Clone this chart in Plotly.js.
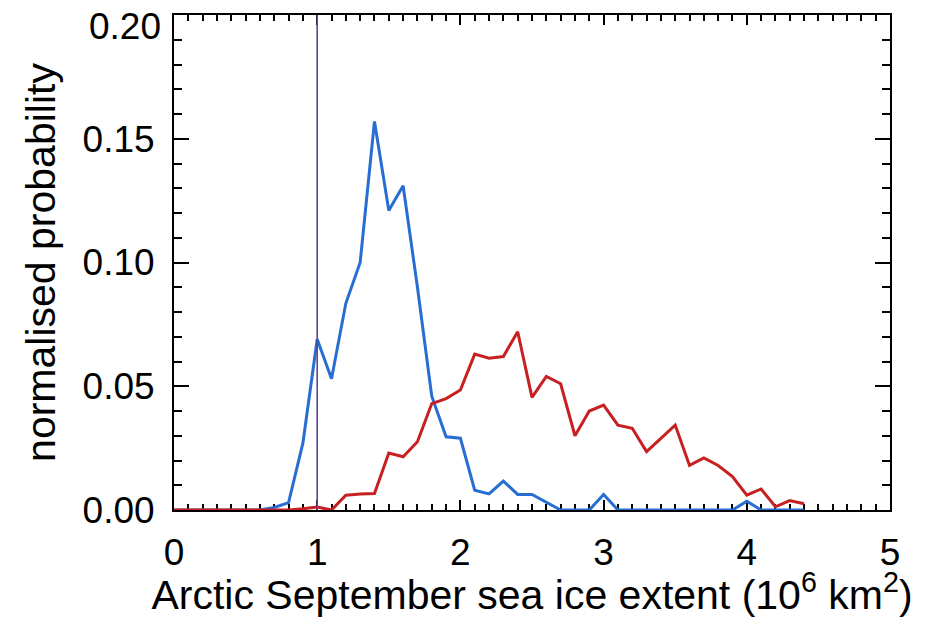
<!DOCTYPE html>
<html>
<head>
<meta charset="utf-8">
<script src="https://cdn.plot.ly/plotly-3.0.1.min.js"></script>
<style>html,body{margin:0;padding:0;background:#fff;}#chart{width:933px;height:618px;}</style>
</head>
<body>
<div id="chart"></div>
<script>
// Sea-ice extent bins (10^6 km^2)
const extent = [0.0,0.1,0.2,0.3,0.4,0.5,0.6,0.7,0.8,0.9,
                1.0,1.1,1.2,1.3,1.4,1.5,1.6,1.7,1.8,1.9,
                2.0,2.1,2.2,2.3,2.4,2.5,2.6,2.7,2.8,2.9,
                3.0,3.1,3.2,3.3,3.4,3.5,3.6,3.7,3.8,3.9,
                4.0,4.1,4.2,4.3,4.4];
// Blue distribution
const blueProb = [0,0,0,0,0,0,0,0.001,0.003,0.027,
                  0.069,0.053,0.0835,0.100,0.157,0.121,0.131,0.090,0.046,0.0296,
                  0.029,0.008,0.0065,0.0117,0.0063,0.0063,0.003,0,0,0,
                  0.0063,0,0,0,0,0,0,0,0,0,
                  0.0035,0,0,0,0];
// Red distribution
const redProb = [0,0,0,0,0,0,0,0,0,0.0005,
                 0.0012,0,0.006,0.0065,0.0067,0.023,0.0215,0.0276,0.043,0.045,
                 0.0485,0.063,0.0613,0.062,0.072,0.0455,0.054,0.051,0.030,0.040,
                 0.0424,0.0343,0.033,0.0236,0.029,0.0343,0.018,0.021,0.018,0.0135,
                 0.006,0.0085,0.0013,0.0038,0.0025];
// Reference marker
const markerX = 1.0;
const xTickVals = [0,1,2,3,4,5];
const xTickText = ['0','1','2','3','4','5'];
const yTickVals = [0,0.05,0.10,0.15,0.20];
const yTickText = ['0.00','0.05','0.10','0.15','0.20'];

const font = 'Liberation Sans, Arial, Helvetica, sans-serif';

const traces = [
  {x: extent, y: blueProb, type: 'scatter', mode: 'lines',
   line: {color: 'rgb(40,110,210)', width: 3}, hoverinfo: 'x+y'},
  {x: extent, y: redProb, type: 'scatter', mode: 'lines',
   line: {color: 'rgb(200,32,32)', width: 3}, hoverinfo: 'x+y'}
];

// the top label (0.20) sits a little below its tick in the reference; draw it as an annotation
const lastIdx = yTickVals.length - 1;
const yTickTextAxis = yTickText.map((t, i) => i === lastIdx ? '' : t);

const axisCommon = {
  showline: true, linecolor: '#000', linewidth: 2,
  mirror: 'allticks', ticks: 'inside', tickcolor: '#000', tickwidth: 2,
  showgrid: false, zeroline: false, layer: 'below traces',
  ticklabeloverflow: 'allow',
  tickfont: {family: font, size: 37, color: '#000'}
};

const layout = {
  width: 933, height: 618,
  margin: {l: 174, r: 43, t: 15, b: 108},
  paper_bgcolor: '#fff', plot_bgcolor: '#fff',
  showlegend: false,
  xaxis: Object.assign({}, axisCommon, {
    range: [0, 5], tickmode: 'array', tickvals: xTickVals, ticktext: xTickText,
    ticklen: 10, ticklabelstandoff: 9,
    minor: {dtick: 0.1, ticks: 'inside', ticklen: 6, tickwidth: 2, tickcolor: '#000', showgrid: false},
    title: {text: 'Arctic September sea ice extent (10<sup>6</sup> km<sup>2</sup>)',
            font: {family: font, size: 41, color: '#000'}, standoff: 2}
  }),
  yaxis: Object.assign({}, axisCommon, {
    range: [0, 0.2], tickmode: 'array', tickvals: yTickVals, ticktext: yTickTextAxis,
    ticklen: 15, ticklabelstandoff: 10,
    minor: {dtick: 0.01, ticks: 'inside', ticklen: 8, tickwidth: 2, tickcolor: '#000', showgrid: false},
    title: {text: 'normalised probability',
            font: {family: font, size: 41, color: '#000'}, standoff: 14}
  }),
  annotations: [{xref: 'paper', yref: 'y', x: 0, y: yTickVals[lastIdx], xanchor: 'right', yanchor: 'middle',
                 xshift: -11, yshift: -11, showarrow: false, text: yTickText[lastIdx],
                 font: {family: font, size: 37, color: '#000'}}],
  shapes: [{type: 'line', xref: 'x', yref: 'paper', x0: markerX, x1: markerX, y0: 0, y1: 1,
            line: {color: 'rgb(88,70,150)', width: 1.6}}]
};

Plotly.newPlot('chart', traces, layout, {staticPlot: true});
</script>
</body>
</html>
